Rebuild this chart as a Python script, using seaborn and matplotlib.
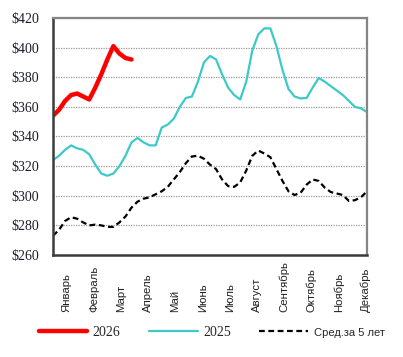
import numpy as np
import pandas as pd
import matplotlib
matplotlib.use("Agg")
import matplotlib.pyplot as plt
import seaborn as sns

# weekly prices, $
price_2026 = [354, 358, 364, 368, 369, 367, 365, 373, 382, 392, 401, 396, 393, 392]
price_2025 = [324, 327, 331, 334, 332, 331, 328, 321, 315, 313.5, 315, 320, 327, 336,
              339, 336, 334, 334, 346, 348, 352, 360, 366, 367, 377, 390, 394.4, 392,
              382, 373, 368, 365, 377, 398, 409, 413, 413, 401, 385, 372, 367, 365.7,
              366, 373, 379.5, 377, 374, 371, 368, 364, 360, 359, 356.5]
avg_5y = [273, 277, 283, 285.5, 284.5, 282, 280, 280.5, 280, 279, 279, 282, 286, 292,
          296, 298, 299, 301, 303, 306, 311, 316, 322, 326.5, 327, 325, 321, 318,
          311, 306.5, 306, 309, 317, 327, 330.5, 328.5, 326, 318, 310, 303, 300.5, 302,
          307.5, 311, 310, 305.5, 302.5, 301.5, 300.5, 296.5, 297, 299, 303]
months = ["Январь", "Февраль", "Март", "Апрель", "Май", "Июнь", "Июль",
          "Август", "Сентябрь", "Октябрь", "Ноябрь", "Декабрь"]
y_ticks = list(range(260, 421, 20))

df26 = pd.DataFrame({"week": np.arange(len(price_2026)), "price": price_2026})
df25 = pd.DataFrame({"week": np.arange(len(price_2025)), "price": price_2025})
dfav = pd.DataFrame({"week": np.arange(len(avg_5y)), "price": avg_5y})

sns.set_style("white")

fig = plt.figure(figsize=(4.03, 3.57), dpi=100)
ax = fig.add_axes([0.1315, 0.2857, 0.7792, 0.6639])

sns.lineplot(data=dfav, x="week", y="price", color="black", lw=1.6,
             linestyle=(0, (2.6, 1.6)), label="Сред.за 5 лет", ax=ax)
sns.lineplot(data=df25, x="week", y="price", color="#3ec9c9", lw=1.6,
             label="2025", ax=ax)
sns.lineplot(data=df26, x="week", y="price", color="#ff0000", lw=3.2,
             label="2026", ax=ax)

ax.set_xlim(0, 52)
ax.set_ylim(260, 420)
ax.set_yticks(y_ticks)
ax.set_yticklabels([f"${v}" for v in y_ticks], fontfamily="Liberation Serif",
                   fontsize=10, color="#1c1c2a")
ax.yaxis.grid(True, linestyle=(0, (1, 1)), color="#9a9a9a", lw=0.9)
ax.xaxis.grid(False)
ax.tick_params(axis="both", length=0, pad=10)
ax.set_xticks([])
ax.set_xlabel("")
ax.set_ylabel("")

for side in ["left", "bottom"]:
    ax.spines[side].set_color("#3c3c3c")
    ax.spines[side].set_linewidth(1.8)
for side in ["top", "right"]:
    ax.spines[side].set_color("#858585")
    ax.spines[side].set_linewidth(1.6)

# month labels, bottom-aligned and rotated
for pos, name in zip(np.linspace(2.3, 51.8, 12), months):
    ax.text(pos, -0.24, name, transform=ax.get_xaxis_transform(), rotation=90,
            ha="center", va="bottom", fontsize=8.2, fontfamily="Liberation Sans",
            color="#222222")

handles, labels = ax.get_legend_handles_labels()
order = [2, 1, 0]
ax.legend_.remove()
leg = fig.legend([handles[i] for i in order], [labels[i] for i in order],
                 loc="center", bbox_to_anchor=(0.525, 0.07), ncol=3, frameon=False,
                 handlelength=3.5, columnspacing=2.05, handletextpad=0.4,
                 prop={"family": "Liberation Serif", "size": 10})
leg.get_texts()[2].set_fontfamily("Liberation Sans")
leg.get_texts()[2].set_fontsize(8)

fig.savefig("out.png", dpi=100)
